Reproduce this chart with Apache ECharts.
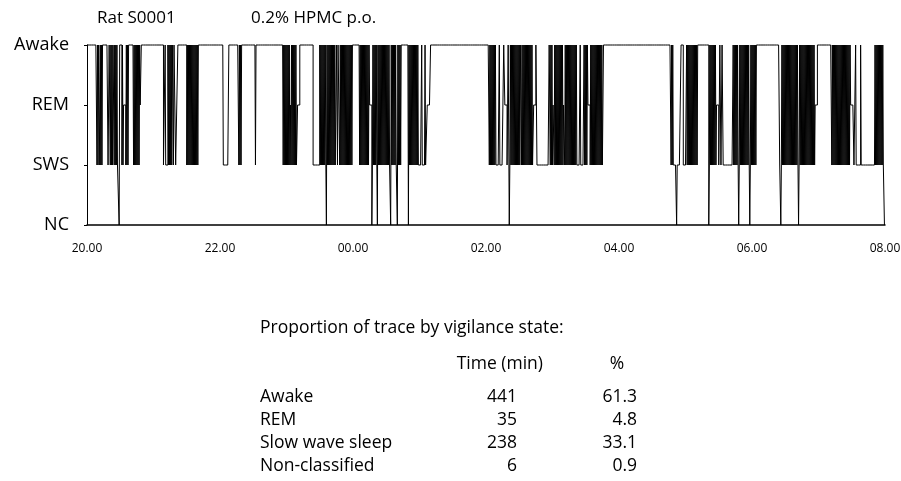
<!DOCTYPE html>
<html>
<head>
<meta charset="utf-8">
<script src="https://cdn.jsdelivr.net/npm/echarts@6/dist/echarts.min.js"></script>
<style>
  html, body { margin: 0; padding: 0; background: #ffffff; }
  #chart { width: 901px; height: 481px; }
</style>
</head>
<body>
<div id="chart"></div>
<script>
// Vigilance states, bottom to top of the hypnogram
const stateLabels = ['NC', 'SWS', 'REM', 'Awake'];
const stateCode = { N: 0, S: 1, R: 2, W: 3 };

// Clock labels every two hours, 20.00 -> 08.00
const timeTicks = ['20.00', '22.00', '00.00', '02.00', '04.00', '06.00', '08.00'];

// Scored 30-second epochs, one line per hour (120 epochs each).
// W awake, R REM, S slow wave sleep, N non-classified.
// "W18" = 18 consecutive awake epochs; "SWS" = one epoch per letter.
const hourlyEpochs = [
  'W18 SWSWRSWSWS W10 S2 W2 SWSWSWRSWSWSWS S2 N W3 WSWSRRRRSWSWSW W8 SWSWSWSWSWSWRR W22',                         // 20.00
  'W18 S3 W S4 WSWSWSWS W2 S W3 S2 R2 W16 SWSWSWSWSWSWSWSWSWSWSW W38',                                               // 21.00
  'W6 S10 W18 SWSWSW W24 S W49 SWSWSW',                                                                                // 22.00
  'SWSWSWSRSWSWSWSWSW S2 R4 W24 S12 WSWSWSWSWSWS N WSWSWSWSWSWSWSW S2 W2 S W3 SWSWSWSWSWSWSWSWSWSWSWSW',               // 23.00
  'W12 SWSWSWSWSWSWSWSWSW R4 N S WSWSWSWS N W SWSWSWSW SWSWSWSWSWSWSS N W SWSWSWSWSS N W SWSWSW W12 N W SWSWSWSWSWSWSWSW S2', // 00.00
  'S4 W S5 W S3 R6 W100',                                                                                              // 01.00
  'W6 SWSWSWSWSWSW S6 W S7 W2 R4 S2 W2 N S WSWSWSWSWSWSWSWSWSWR SWSWSWSWSWSWSWSWSWSW S2 R4 W2 S22 W2 SWSW',             // 02.00
  'S R2 SWSWSWSWSWSWSWSWS R2 SWSWSWSWSWSWSWSWSWSWSW S6 W S5 SWSWSWSW R4 SWSWSWSWSWSWSWSWSWSWSWSS W28',                  // 03.00
  'W94 SWSW S6 N S S6 W4 S4',                                                                                          // 04.00
  'S2 WSWS WSWSWSWSWSWSWSWS W20 N S WSWSWSWSWSWS R4 S2 W2 S2 W2 S18 WSWSWSWSWS N S WSWSWSWSWSWSWSWSWS N S WS',        // 05.00
  'WSWSWSWS W42 S2 N S WSWSWSWSWS WSWSWSWSWS WSWSWSWSWS N S WSWSWSWSWS WSWSWSWSWS WSWSWSWS R4 W2',                     // 06.00
  'W24 SWSWSWSWSW SWSWSWSWSW SWSWSWSWSW SWSW R6 S2 S W S8 W S S24 WSWSWSWSWS WSWSWS S N'                                // 07.00
];
const epochMinutes = 0.5;

// Summary table
const tableTitle = 'Proportion of trace by vigilance state:';
const tableHeaders = ['Time (min)', '%'];
const tableStates = ['Awake', 'REM', 'Slow wave sleep', 'Non-classified'];
const tableMinutes = ['441', '35', '238', '6'];
const tablePercent = ['61.3', '4.8', '33.1', '0.9'];

const ratId = 'Rat S0001';
const treatment = '0.2% HPMC p.o.';

// Expand the run-length notation into a flat list of epoch states
function decodeHour(line) {
  const out = [];
  line.trim().split(/\s+/).forEach(tok => {
    const m = tok.match(/^([WRSN])(\d+)$/);
    if (m) {
      for (let k = 0; k < Number(m[2]); k++) out.push(m[1]);
    } else {
      for (const c of tok) out.push(c);
    }
  });
  return out;
}

const epochs = [].concat(...hourlyEpochs.map(decodeHour));
// Step series: one point per epoch start, plus a closing point at the end of the trace
const points = epochs.map((c, i) => [i * epochMinutes, stateCode[c]]);
points.push([epochs.length * epochMinutes, points[points.length - 1][1]]);

const FONT = '"Open Sans", Lato, sans-serif';

function label(text, x, y, size, align) {
  return {
    type: 'text', x: x, y: y, silent: true,
    style: { text: text, font: size + 'px ' + FONT, fill: '#000', align: align, verticalAlign: 'middle' }
  };
}

const graphic = [
  label(ratId, 97, 18, 17, 'left'),
  label(treatment, 251, 18, 17, 'left'),
  label(tableTitle, 260, 328, 17.5, 'left'),
  label(tableHeaders[0], 543, 364, 17.5, 'right'),
  label(tableHeaders[1], 617, 364, 17.5, 'center')
];
const rowY = [397, 420, 443, 466];
tableStates.forEach((s, i) => {
  graphic.push(label(s, 260, rowY[i], 17.5, 'left'));
  graphic.push(label(tableMinutes[i], 517, rowY[i], 17.5, 'right'));
  graphic.push(label(tablePercent[i], 637, rowY[i], 17.5, 'right'));
});

const chart = echarts.init(document.getElementById('chart'), null, { renderer: 'canvas' });
chart.setOption({
  animation: false,
  backgroundColor: '#ffffff',
  grid: { left: 87, right: 16, top: 45, bottom: 256, containLabel: false, outerBoundsMode: 'none' },
  xAxis: {
    type: 'value',
    min: 0,
    max: 720,
    interval: 120,
    axisLine: { show: true, lineStyle: { color: '#000', width: 1.5 } },
    axisTick: { show: false },
    splitLine: { show: false },
    axisLabel: {
      color: '#000',
      fontFamily: FONT,
      fontSize: 12,
      margin: 18,
      formatter: v => timeTicks[Math.round(v / 120)]
    }
  },
  yAxis: {
    type: 'value',
    min: 0,
    max: 3,
    interval: 1,
    axisLine: { show: true, lineStyle: { color: '#000', width: 1 } },
    axisTick: { show: true, length: 3, lineStyle: { color: '#000' } },
    splitLine: { show: false },
    axisLabel: {
      color: '#000',
      fontFamily: FONT,
      fontSize: 18,
      margin: 18,
      formatter: v => stateLabels[v]
    }
  },
  graphic: graphic,
  series: [{
    type: 'line',
    step: 'end',
    data: points,
    symbol: 'none',
    clip: false,
    sampling: null,
    lineStyle: { color: '#000', width: 1 }
  }]
});
</script>
</body>
</html>
